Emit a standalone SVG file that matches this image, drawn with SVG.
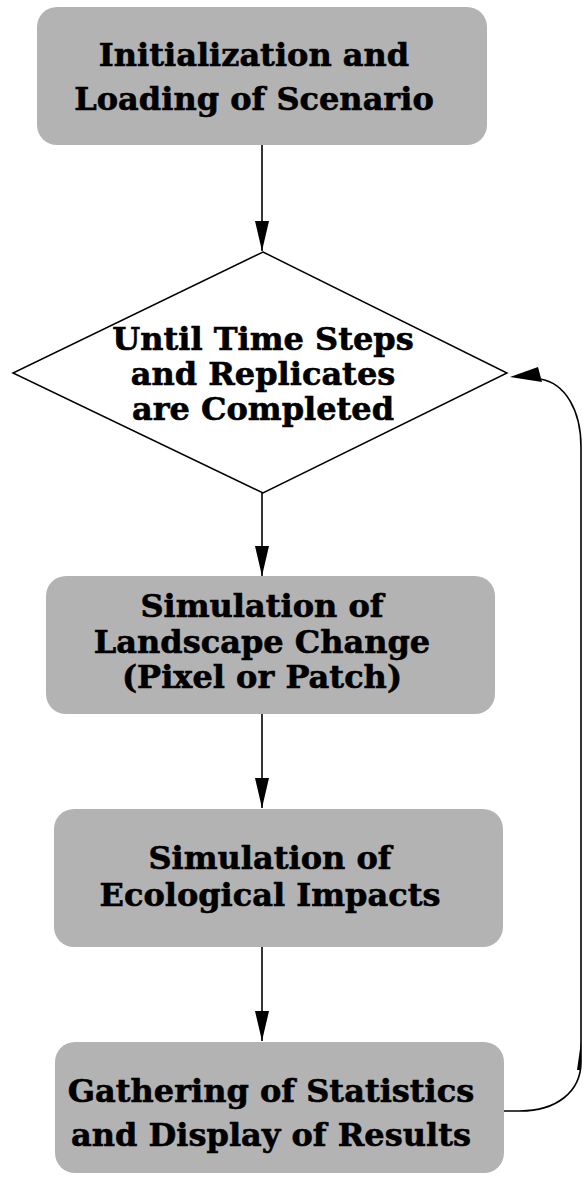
<svg xmlns="http://www.w3.org/2000/svg" width="585" height="1177" viewBox="0 0 585 1177">
<style>
.box{fill:#b3b3b3;stroke:none}
.dia{fill:#ffffff;stroke:#000;stroke-width:1.5}
.t{font-family:"DejaVu Serif","Liberation Serif",serif;font-weight:bold;font-size:32px;fill:#000;stroke:#000;stroke-width:0.6;text-anchor:middle}
.c{fill:none;stroke:#000;stroke-width:1.6}
</style>
<defs>
<marker id="ah" markerUnits="userSpaceOnUse" markerWidth="30" markerHeight="14" viewBox="0 0 30 14" refX="30" refY="7" orient="auto">
<path d="M0,0 L30,7 L0,14 z" fill="#000"/>
</marker>
</defs>
<rect width="585" height="1177" fill="#fff"/>
<g id="connectors">
<line class="c" x1="262" y1="145" x2="262" y2="251" marker-end="url(#ah)"/>
<line class="c" x1="262" y1="493" x2="262" y2="576" marker-end="url(#ah)"/>
<line class="c" x1="262" y1="714" x2="262" y2="808" marker-end="url(#ah)"/>
<line class="c" x1="262" y1="947" x2="262" y2="1041" marker-end="url(#ah)"/>
<path class="c" d="M504,1111 L520,1111 C556,1111 581,1092 581,1062 L581,447 C581,410 565,383 540,379"/>
<polygon points="510,377 538,367 542,382" fill="#000"/>
<polygon points="581,1042 577,1070 581,1070" fill="#000"/>
</g>
<g id="n1">
<rect class="box" x="37" y="7" width="450" height="138" rx="20"/>
<text class="t" x="254" y="66">Initialization and</text>
<text class="t" x="254" y="110">Loading of Scenario</text>
</g>
<g id="n2">
<polygon class="dia" points="263,252 507,373 263,493 13,373"/>
<text class="t" x="263" y="350">Until Time Steps</text>
<text class="t" x="263" y="385">and Replicates</text>
<text class="t" x="263" y="420">are Completed</text>
</g>
<g id="n3">
<rect class="box" x="46" y="576" width="449" height="138" rx="20"/>
<text class="t" x="262" y="617">Simulation of</text>
<text class="t" x="262" y="653">Landscape Change</text>
<text class="t" x="262" y="688">(Pixel or Patch)</text>
</g>
<g id="n4">
<rect class="box" x="54" y="809" width="449" height="138" rx="20"/>
<text class="t" x="270" y="869">Simulation of</text>
<text class="t" x="270" y="906">Ecological Impacts</text>
</g>
<g id="n5">
<rect class="box" x="55" y="1042" width="449" height="131" rx="20"/>
<text class="t" x="271" y="1102">Gathering of Statistics</text>
<text class="t" x="271" y="1146">and Display of Results</text>
</g>
</svg>
